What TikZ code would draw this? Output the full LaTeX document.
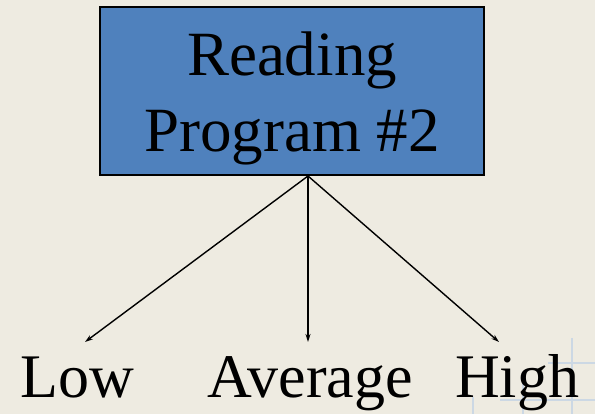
\documentclass[tikz,border=0pt]{standalone}
\usepackage{fontspec}
\setmainfont{Liberation Serif}
\usetikzlibrary{arrows.meta}
\definecolor{bg}{HTML}{EEEBE1}
\definecolor{boxblue}{HTML}{4F81BD}
\definecolor{gridblue}{HTML}{CCD8E4}
\tikzset{
  box/.style={draw=black, line width=1.8pt, fill=boxblue, minimum width=384pt, minimum height=168pt, inner sep=0pt},
  big/.style={anchor=base, inner sep=0pt, font=\fontsize{63}{76}\selectfont},
  lbl/.style={anchor=base, inner sep=0pt, font=\fontsize{62}{74}\selectfont},
  conn/.style={line width=1.4pt, -{Stealth[length=8pt,width=5pt]}},
  gridln/.style={draw=gridblue, line width=1.2pt}
}
\begin{document}
\begin{tikzpicture}[x=1pt,y=-1pt]
\fill[bg] (0,0) rectangle (595,414);
\useasboundingbox (0,0) rectangle (595,414);
% faint grid
\draw[gridln] (473,397) -- (473,414);
\draw[gridln] (523,372) -- (523,414);
\draw[gridln] (572,338) -- (572,414);
\draw[gridln] (548,363) -- (595,363);
\draw[gridln] (500,400) -- (595,400);
% box
\node[box] (b) at (292,91) {};
\node[big] (t1) at (292,76) {Reading};
\node[big] (t2) at (292,152) {Program \#2};
\coordinate (o) at (308,176);
% labels
\node[lbl] (low) at (77,397) {Low};
\node[lbl] (avg) at (310,397) {Average};
\node[lbl] (high) at (517,397) {High};
\coordinate (el) at (85,342);
\coordinate (ea) at (308,342);
\coordinate (eh) at (499,342);
\draw[conn] (o) -- (el);
\draw[conn] (o) -- (ea);
\draw[conn] (o) -- (eh);
\end{tikzpicture}
\end{document}
